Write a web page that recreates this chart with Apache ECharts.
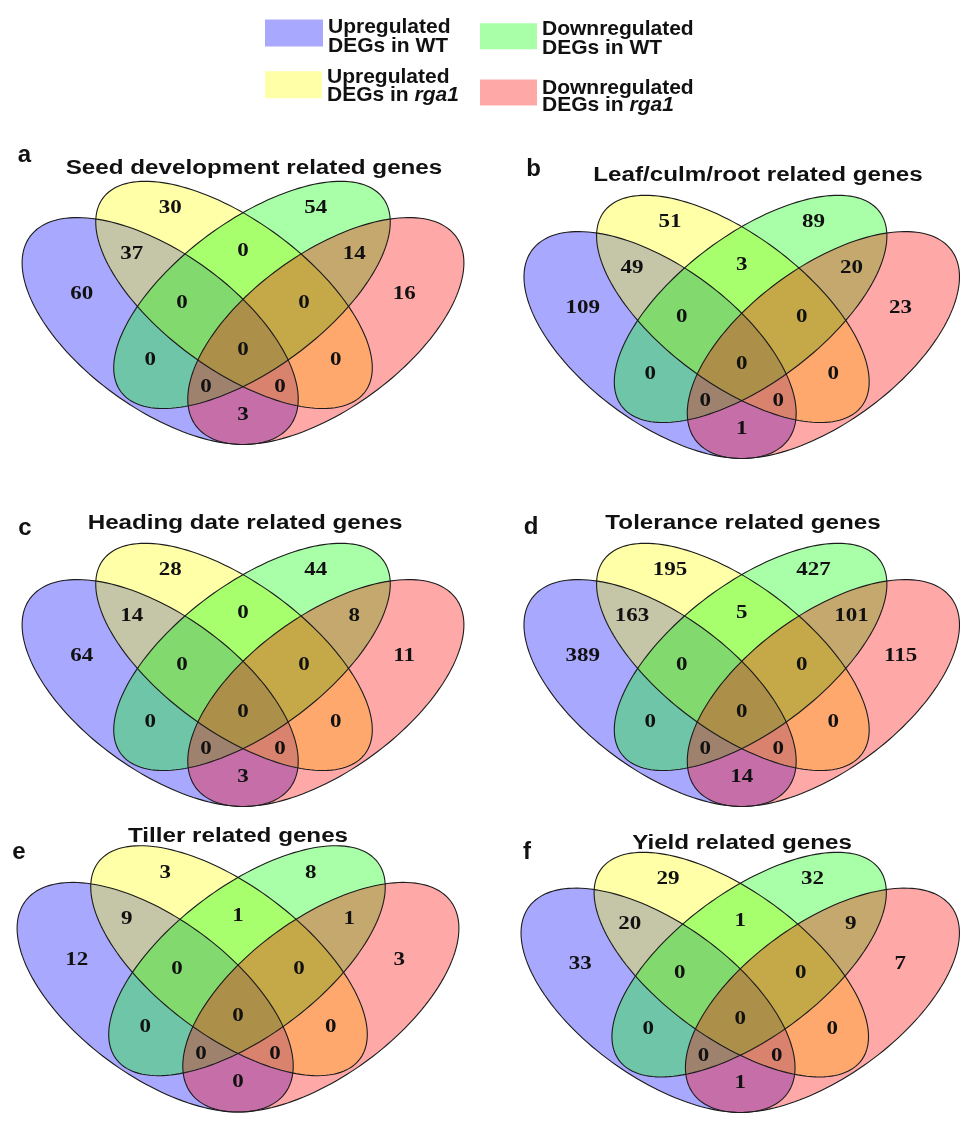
<!DOCTYPE html>
<html>
<head>
<meta charset="utf-8">
<script src="https://cdn.jsdelivr.net/npm/echarts@6/dist/echarts.min.js"></script>
<style>
  html, body { margin: 0; padding: 0; background: #ffffff; }
  #chart { width: 968px; height: 1130px; }
</style>
</head>
<body>
<div id="chart"></div>
<script>
// ---- Data ---------------------------------------------------------------
// The four gene sets (A, B, C, D) compared in every panel
const setNames = [
  'Upregulated DEGs in WT',      // A
  'Upregulated DEGs in rga1',    // B
  'Downregulated DEGs in WT',    // C
  'Downregulated DEGs in rga1'   // D
];
// Venn regions, in the same order as the count arrays below
const regions = ['A', 'B', 'C', 'D', 'AB', 'BC', 'CD', 'ABC', 'BCD', 'ABCD', 'AC', 'BD', 'ACD', 'ABD', 'AD'];

const panelLetters = ['a', 'b', 'c', 'd', 'e', 'f'];
const panelTitles = [
  'Seed development related genes',
  'Leaf/culm/root related genes',
  'Heading date related genes',
  'Tolerance related genes',
  'Tiller related genes',
  'Yield related genes'
];

// Gene counts per region
const seedDevelopment = [60, 30, 54, 16, 37, 0, 14, 0, 0, 0, 0, 0, 0, 0, 3];
const leafCulmRoot    = [109, 51, 89, 23, 49, 3, 20, 0, 0, 0, 0, 0, 0, 0, 1];
const headingDate     = [64, 28, 44, 11, 14, 0, 8, 0, 0, 0, 0, 0, 0, 0, 3];
const tolerance       = [389, 195, 427, 115, 163, 5, 101, 0, 0, 0, 0, 0, 0, 0, 14];
const tiller          = [12, 3, 8, 3, 9, 1, 1, 0, 0, 0, 0, 0, 0, 0, 0];
const yieldGenes      = [33, 29, 32, 7, 20, 1, 9, 0, 0, 0, 0, 0, 0, 0, 1];
const panelCounts = [seedDevelopment, leafCulmRoot, headingDate, tolerance, tiller, yieldGenes];

// ---- Layout -------------------------------------------------------------
// Ellipses of the classic 4-set Venn, in a unit square (v grows upward).
// Drawn in the order blue, yellow, green, red so the translucent fills mix.
const ELLIPSES = [
  { set: 0, cu: 0.334, cv: 0.470, a: 0.350, b: 0.175, rot: 135, fill: 'rgba(0,0,255,0.34)' },
  { set: 1, cu: 0.482, cv: 0.558, a: 0.355, b: 0.166, rot: 135, fill: 'rgba(255,255,0,0.34)' },
  { set: 2, cu: 0.518, cv: 0.558, a: 0.355, b: 0.166, rot: 45,  fill: 'rgba(0,255,0,0.34)' },
  { set: 3, cu: 0.666, cv: 0.470, a: 0.350, b: 0.175, rot: 45,  fill: 'rgba(255,0,0,0.34)' }
];
// Where each region's count sits in the unit square
const REGION_ANCHOR = {
  A: [0.177, 0.560], B: [0.354, 0.770], C: [0.646, 0.770], D: [0.823, 0.560],
  AB: [0.277, 0.658], BC: [0.500, 0.665], CD: [0.723, 0.658],
  ABC: [0.378, 0.538], BCD: [0.622, 0.538], ABCD: [0.500, 0.424],
  AC: [0.314, 0.399], BD: [0.686, 0.399],
  ACD: [0.426, 0.333], ABD: [0.574, 0.333], AD: [0.500, 0.265]
};
// Pixel position of the unit-square centre of each panel, its vertical scale,
// plus title / letter anchors
const PANELS = [
  { cx: 243, cy: 318.7, sy: 410, title: [254, 168.4], letter: [24.5, 155] },
  { cx: 745, cy: 332.7, sy: 410, title: [758, 175],   letter: [533.5, 169] },
  { cx: 243, cy: 680.7, sy: 410, title: [245, 523.4], letter: [25, 528] },
  { cx: 745, cy: 680.7, sy: 410, title: [743, 523],   letter: [531, 527] },
  { cx: 238, cy: 986,   sy: 418, title: [238, 836],   letter: [19, 852] },
  { cx: 742, cy: 990,   sy: 410, title: [742, 843],   letter: [527, 852] }
];
const SX = 499;                    // unit square -> pixels (the figure is stretched sideways)
const TEXT_STRETCH = 1.21;
const X_RANGE = [0.04, 0.96], Y_RANGE = [0.15, 0.90];

const SANS = '"Liberation Sans", Arial, Helvetica, sans-serif';
const SERIF = '"Liberation Serif", "Times New Roman", serif';

// ---- Helpers ------------------------------------------------------------
function ellipsePoints(E, api) {
  const phi = E.rot * Math.PI / 180;
  const c = Math.cos(phi), s = Math.sin(phi);
  const pts = [];
  const n = 160;
  for (let i = 0; i < n; i++) {
    const t = 2 * Math.PI * i / n;
    const ca = E.a * Math.cos(t), sb = E.b * Math.sin(t);
    pts.push(api.coord([E.cu + ca * c - sb * s, E.cv + ca * s + sb * c]));
  }
  return pts;
}

const grids = [], xAxes = [], yAxes = [], series = [], graphics = [];

PANELS.forEach((P, p) => {
  grids.push({
    left: P.cx - (0.5 - X_RANGE[0]) * SX,
    width: (X_RANGE[1] - X_RANGE[0]) * SX,
    top: P.cy - (Y_RANGE[1] - 0.5) * P.sy,
    height: (Y_RANGE[1] - Y_RANGE[0]) * P.sy
  });
  xAxes.push({ gridIndex: p, type: 'value', min: X_RANGE[0], max: X_RANGE[1], show: false });
  yAxes.push({ gridIndex: p, type: 'value', min: Y_RANGE[0], max: Y_RANGE[1], show: false });

  // translucent fills, one series per gene set
  ELLIPSES.forEach(E => {
    series.push({
      type: 'custom',
      name: setNames[E.set],
      xAxisIndex: p, yAxisIndex: p,
      silent: true,
      z: 1,
      itemStyle: { color: E.fill },
      data: [[E.cu, E.cv]],
      renderItem: (params, api) => ({
        type: 'polygon',
        shape: { points: ellipsePoints(E, api) },
        style: { fill: E.fill, stroke: null }
      })
    });
  });

  // outlines on top of all fills
  series.push({
    type: 'custom',
    xAxisIndex: p, yAxisIndex: p,
    silent: true,
    z: 2,
    data: ELLIPSES.map(E => [E.cu, E.cv]),
    renderItem: (params, api) => ({
      type: 'polygon',
      shape: { points: ellipsePoints(ELLIPSES[params.dataIndex], api) },
      style: { fill: null, stroke: '#1c1c1c', lineWidth: 1.1 }
    })
  });

  // region counts
  series.push({
    type: 'custom',
    xAxisIndex: p, yAxisIndex: p,
    silent: true,
    z: 3,
    data: regions.map((r, i) => [REGION_ANCHOR[r][0], REGION_ANCHOR[r][1], panelCounts[p][i]]),
    renderItem: (params, api) => {
      const pt = api.coord([api.value(0), api.value(1)]);
      return {
        type: 'text',
        x: pt[0], y: pt[1],
        scaleX: TEXT_STRETCH,
        style: {
          text: String(api.value(2)),
          align: 'center', verticalAlign: 'middle',
          font: 'bold 19px ' + SERIF,
          fill: '#111111'
        }
      };
    }
  });

  graphics.push({
    type: 'text', x: P.title[0], y: P.title[1], scaleX: TEXT_STRETCH, silent: true, z: 10,
    style: { text: panelTitles[p], align: 'center', verticalAlign: 'middle',
             font: 'bold 20px ' + SANS, fill: '#111111' }
  });
  graphics.push({
    type: 'text', x: P.letter[0], y: P.letter[1], silent: true, z: 10,
    style: { text: panelLetters[p], align: 'center', verticalAlign: 'middle',
             font: 'bold 24px ' + SANS, fill: '#111111' }
  });
});

// ---- Legend: four swatches with two-line captions -------------------------
function legendRich(lineH, gap) {
  return {
    s: { fontSize: 1, lineHeight: gap },
    n: { fontFamily: SANS, fontWeight: 'bold', fontSize: 21, lineHeight: lineH, color: '#111111' },
    i: { fontFamily: SANS, fontWeight: 'bold', fontStyle: 'italic', fontSize: 21, lineHeight: lineH, color: '#111111' }
  };
}
function legendLabel(name) {
  const words = name.split(' ');
  const first = words[0];
  const last = words[words.length - 1];
  const rest = words.slice(1, -1).join(' ');
  const tail = last === 'rga1' ? '{i|' + last + '}' : '{n|' + last + '}';
  return '{s| }\n{n|' + first + '}\n{n|' + rest + ' }' + tail;
}
const legendSpots = [
  { set: 0, left: 265, top: 13.5, w: 58, h: 27, lineH: 19, gap: 8 },
  { set: 2, left: 480, top: 16.7, w: 57, h: 26, lineH: 19, gap: 5.6 },
  { set: 1, left: 265, top: 66.3, w: 57, h: 27, lineH: 18, gap: 2.4 },
  { set: 3, left: 480, top: 75,   w: 57, h: 26, lineH: 17, gap: 8 }
];
const legends = legendSpots.map(L => ({
  data: [{ name: setNames[L.set], icon: 'rect' }],
  left: L.left, top: L.top,
  padding: 0,
  itemWidth: L.w, itemHeight: L.h,
  selectedMode: false,
  formatter: legendLabel,
  textStyle: { rich: legendRich(L.lineH, L.gap) }
}));

const chart = echarts.init(document.getElementById('chart'), null, { renderer: 'canvas' });
chart.setOption({
  animation: false,
  backgroundColor: '#ffffff',
  legend: legends,
  grid: grids,
  xAxis: xAxes,
  yAxis: yAxes,
  graphic: { elements: graphics },
  series: series
});
</script>
</body>
</html>
